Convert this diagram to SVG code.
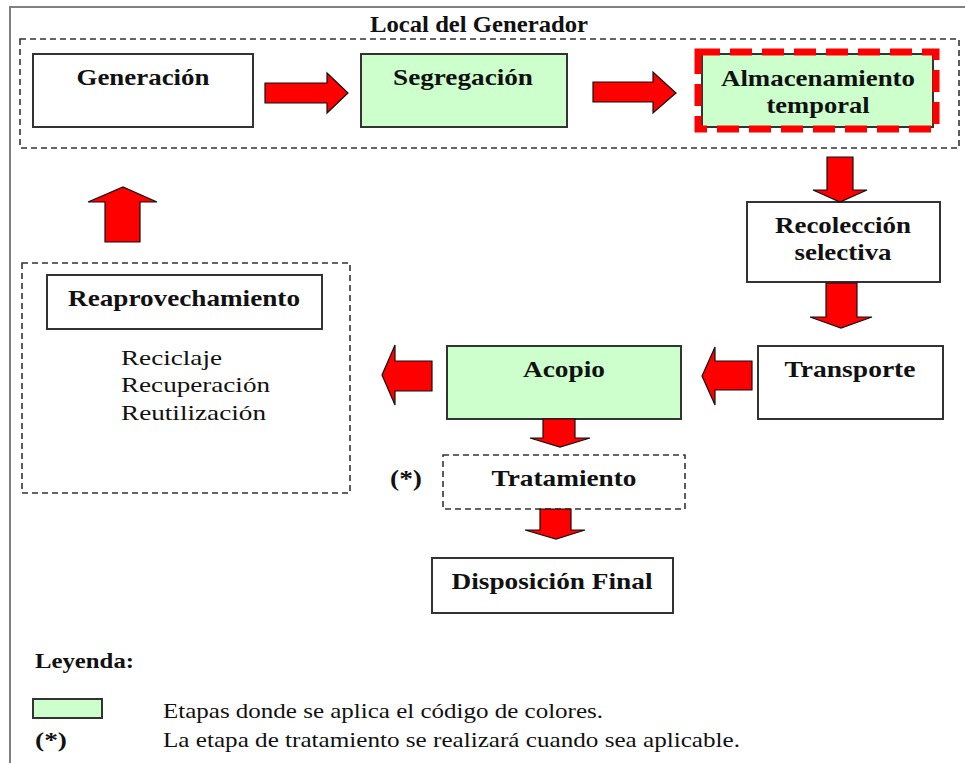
<svg xmlns="http://www.w3.org/2000/svg" width="965" height="763" viewBox="0 0 965 763">
<style>
.box{fill:#fff;stroke:#333;stroke-width:2}
.green{fill:#ccffcc;stroke:#333;stroke-width:2}
.dash{fill:none;stroke:#333;stroke-width:1.6;stroke-dasharray:6 4}
.arrow{fill:#ff0000;stroke:#111;stroke-width:1.2;stroke-linejoin:miter}
.t{font-family:"Liberation Serif","Times New Roman",Times,serif;font-weight:bold;font-size:24px;fill:#111;text-anchor:middle}
.r{font-family:"Liberation Serif","Times New Roman",Times,serif;font-size:22px;fill:#111}
.b{font-family:"Liberation Serif","Times New Roman",Times,serif;font-weight:bold;font-size:21px;fill:#111}
</style>
<rect width="965" height="763" fill="#fff"/>
<path d="M10,763 V7 H965" fill="none" stroke="#808080" stroke-width="2"/>

<g id="grupo-local">
<rect class="dash" x="20" y="39" width="939" height="109"/>
<text class="t" x="479" y="32" font-size="21" textLength="218" lengthAdjust="spacingAndGlyphs">Local del Generador</text>
</g>

<g id="generacion">
<rect class="box" x="33" y="54" width="220" height="73"/>
<text class="t" x="143" y="85" textLength="133" lengthAdjust="spacingAndGlyphs">Generación</text>
</g>

<g id="segregacion">
<rect class="green" x="361" y="54" width="206" height="73"/>
<text class="t" x="463" y="85" textLength="140" lengthAdjust="spacingAndGlyphs">Segregación</text>
</g>

<g id="almacenamiento">
<rect class="green" x="702" y="54" width="231" height="73"/>
<rect x="698" y="52" width="238" height="77" fill="none" stroke="#ff0000" stroke-width="7" stroke-dasharray="22 10"/>
<text class="t" x="818" y="86" textLength="194" lengthAdjust="spacingAndGlyphs">Almacenamiento</text>
<text class="t" x="818" y="113" textLength="103" lengthAdjust="spacingAndGlyphs">temporal</text>
</g>

<g id="recoleccion">
<rect class="box" x="747" y="202" width="193" height="80"/>
<text class="t" x="843" y="233" textLength="136" lengthAdjust="spacingAndGlyphs">Recolección</text>
<text class="t" x="843" y="260" textLength="97" lengthAdjust="spacingAndGlyphs">selectiva</text>
</g>

<g id="transporte">
<rect class="box" x="758" y="346" width="185" height="73"/>
<text class="t" x="850" y="377" textLength="131" lengthAdjust="spacingAndGlyphs">Transporte</text>
</g>

<g id="acopio">
<rect class="green" x="447" y="346" width="234" height="73"/>
<text class="t" x="564" y="377" textLength="82" lengthAdjust="spacingAndGlyphs">Acopio</text>
</g>

<g id="tratamiento">
<rect class="dash" x="443" y="455" width="242" height="54"/>
<text class="t" x="564" y="486" textLength="145" lengthAdjust="spacingAndGlyphs">Tratamiento</text>
<text class="t" x="406" y="486" textLength="32" lengthAdjust="spacingAndGlyphs">(*)</text>
</g>

<g id="disposicion">
<rect class="box" x="432" y="558" width="241" height="55"/>
<text class="t" x="552" y="589" textLength="201" lengthAdjust="spacingAndGlyphs">Disposición Final</text>
</g>

<g id="reaprovechamiento">
<rect class="dash" x="22" y="263" width="328" height="230"/>
<rect class="box" x="47" y="275" width="275" height="54"/>
<text class="t" x="184" y="306" textLength="232" lengthAdjust="spacingAndGlyphs">Reaprovechamiento</text>
<text class="r" x="121" y="365" textLength="101" lengthAdjust="spacingAndGlyphs">Reciclaje</text>
<text class="r" x="121" y="392" textLength="149" lengthAdjust="spacingAndGlyphs">Recuperación</text>
<text class="r" x="121" y="420" textLength="145" lengthAdjust="spacingAndGlyphs">Reutilización</text>
</g>

<g id="conectores">
<path class="arrow" d="M265,83 H327 V73 L348,93 L327,113 V103 H265 Z"/>
<path class="arrow" d="M593,82 H653 V72 L676,93 L653,113 V102 H593 Z"/>
<path class="arrow" d="M827,157 H853 V190 H867 L840,202 L813,190 H827 Z"/>
<path class="arrow" d="M826,283 H857 V317 H872 L841,328 L810,317 H826 Z"/>
<path class="arrow" d="M752,361 V390 H715 V405 L702,376 L715,347 V361 Z"/>
<path class="arrow" d="M432,361 V391 H395 V405 L382,375 L395,345 V361 Z"/>
<path class="arrow" d="M543,419 H575 V438 H590 L560,447 L530,438 H543 Z"/>
<path class="arrow" d="M540,509 H571 V530 H585 L556,539 L525,530 H540 Z"/>
<path class="arrow" d="M105,242 V202 H88 L123,187 L157,202 H140 V242 Z"/>
</g>

<g id="leyenda">
<text class="b" x="35" y="668" textLength="99" lengthAdjust="spacingAndGlyphs">Leyenda:</text>
<rect class="green" x="33" y="699" width="69" height="19"/>
<text class="r" x="163" y="718" textLength="440" lengthAdjust="spacingAndGlyphs">Etapas donde se aplica el código de colores.</text>
<text class="b" x="35" y="747" textLength="32" lengthAdjust="spacingAndGlyphs">(*)</text>
<text class="r" x="163" y="747" textLength="577" lengthAdjust="spacingAndGlyphs">La etapa de tratamiento se realizará cuando sea aplicable.</text>
</g>
</svg>
